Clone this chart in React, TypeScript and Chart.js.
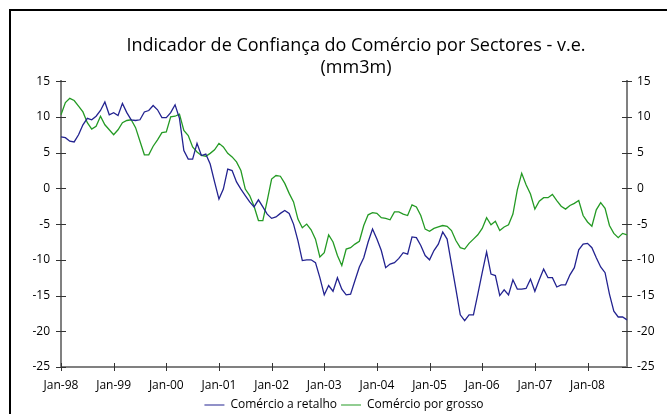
import React, { useEffect, useRef } from "react";
import { Chart, registerables } from "chart.js";

Chart.register(...registerables);

const titleLines = ["Indicador de Confiança do Comércio por Sectores - v.e.", "(mm3m)"];
const seriesNames = ["Comércio a retalho", "Comércio por grosso"];
const xTickLabels = ["Jan-98", "Jan-99", "Jan-00", "Jan-01", "Jan-02", "Jan-03", "Jan-04", "Jan-05", "Jan-06", "Jan-07", "Jan-08"];
const yTickValues = [-25, -20, -15, -10, -5, 0, 5, 10, 15];
const monthNames = ["Jan", "Feb", "Mar", "Apr", "May", "Jun", "Jul", "Aug", "Sep", "Oct", "Nov", "Dec"];

// Comércio a retalho (Jan-98 .. Oct-08, monthly)
const retail = [
  7.2, 7.1, 6.6, 6.5, 7.5, 8.9, 9.8, 9.6, 10.1, 10.9, 12.1, 10.3,
  10.6, 10.2, 11.9, 10.6, 9.6, 9.5, 9.6, 10.7, 10.9, 11.6, 11.0, 9.9,
  9.9, 10.6, 11.7, 9.8, 5.3, 4.1, 4.1, 6.3, 4.6, 4.8, 3.4, 0.9,
  -1.5, -0.1, 2.7, 2.5, 0.9, -0.1, -1.0, -1.9, -2.6, -1.6, -2.6, -3.6,
  -4.2, -4.0, -3.5, -3.1, -3.5, -5.0, -7.3, -10.1, -10.0, -10.0, -10.4, -12.5,
  -14.9, -13.6, -14.4, -12.5, -14.1, -14.9, -14.8, -12.9, -11.0, -9.7, -7.5, -5.7,
  -7.1, -8.7, -11.1, -10.6, -10.4, -9.8, -9.0, -9.2, -6.8, -6.9, -8.0, -9.4,
  -10.0, -8.7, -7.8, -6.1, -7.1, -10.6, -14.1, -17.7, -18.5, -17.7, -17.7, -14.8,
  -11.8, -8.9, -12.0, -12.2, -15.0, -14.2, -14.9, -12.8, -14.1, -14.1, -14.0, -12.7,
  -14.4, -12.8, -11.3, -12.5, -12.5, -13.8, -13.5, -13.5, -12.1, -11.1, -8.6, -7.8,
  -7.7, -8.3, -9.7, -11.0, -11.8, -14.8, -17.2, -18.0, -18.0, -18.4,
];

// Comércio por grosso (Jan-98 .. Oct-08, monthly)
const wholesale = [
  10.3, 12.0, 12.6, 12.3, 11.5, 10.7, 9.2, 8.3, 8.7, 10.1, 8.9, 8.2,
  7.5, 8.2, 9.2, 9.5, 9.6, 8.5, 6.6, 4.7, 4.7, 5.9, 6.8, 7.8,
  7.9, 10.0, 10.1, 10.4, 8.1, 7.4, 5.8, 5.1, 4.6, 4.5, 4.9, 5.4,
  6.3, 5.8, 4.9, 4.4, 3.7, 2.5, -0.1, -1.0, -2.5, -4.5, -4.5, -1.7,
  1.3, 1.8, 1.7, 0.7, -0.7, -1.9, -4.3, -5.5, -5.0, -5.8, -7.1, -9.6,
  -9.0, -6.5, -7.5, -9.4, -10.8, -8.5, -8.3, -7.8, -7.4, -5.2, -3.7, -3.4,
  -3.5, -4.1, -4.2, -4.4, -3.3, -3.3, -3.6, -3.8, -2.3, -2.6, -3.8, -5.7,
  -6.0, -5.6, -5.4, -5.2, -5.3, -5.9, -7.3, -8.3, -8.5, -7.7, -7.1, -6.5,
  -5.6, -4.1, -5.1, -4.6, -5.9, -5.4, -5.1, -3.6, -0.2, 2.1, 0.5, -0.8,
  -2.9, -1.8, -1.3, -1.3, -0.85, -1.7, -2.5, -2.9, -2.4, -2.1, -1.7, -3.8,
  -4.7, -5.3, -3.0, -2.0, -2.8, -5.2, -6.3, -6.9, -6.3, -6.5,
];

const months: string[] = retail.map((_, i) => `${monthNames[i % 12]}-${String((98 + Math.floor(i / 12)) % 100).padStart(2, "0")}`);

const BLUE = "#232390";
const GREEN = "#249a24";

const crossTicks = {
  id: "crossTicks",
  afterDraw(chart: any) {
    const ctx = chart.ctx;
    const { left, right, bottom } = chart.chartArea;
    const ys = chart.scales.y;
    const xs = chart.scales.x;
    ctx.save();
    ctx.strokeStyle = "#333";
    ctx.lineWidth = 1;
    ctx.beginPath();
    ys.ticks.forEach((t: any) => {
      const py = Math.round(ys.getPixelForValue(t.value)) + 0.5;
      [left, right].forEach((ax: number) => {
        ctx.moveTo(ax - 5, py);
        ctx.lineTo(ax + 5, py);
      });
    });
    for (let i = 0; i < xTickLabels.length; i++) {
      const px = Math.round(xs.getPixelForValue(i * 12)) + 0.5;
      ctx.moveTo(px, bottom - 4);
      ctx.lineTo(px, bottom + 4);
    }
    ctx.stroke();
    ctx.restore();
  },
};

export default function App() {
  const ref = useRef<HTMLCanvasElement | null>(null);
  useEffect(() => {
    if (!ref.current) return;
    Chart.defaults.font.family = "'Open Sans', sans-serif";
    Chart.defaults.color = "#000";
    const yCommon = {
      type: "linear" as const,
      min: -25,
      max: 15,
      afterBuildTicks: (s: any) => {
        s.ticks = yTickValues.map((v) => ({ value: v }));
      },
      grid: { display: true, drawOnChartArea: false, drawTicks: true, tickLength: 5, tickColor: "rgba(0,0,0,0)" },
      border: { display: true, color: "#808080", width: 2 },
    };
    const chart = new Chart(ref.current, {
      type: "line",
      data: {
        labels: months,
        datasets: [
          { label: seriesNames[0], data: retail, borderColor: BLUE, backgroundColor: BLUE, borderWidth: 1.3, pointRadius: 0, tension: 0, yAxisID: "y" },
          { label: seriesNames[1], data: wholesale, borderColor: GREEN, backgroundColor: GREEN, borderWidth: 1.3, pointRadius: 0, tension: 0, yAxisID: "y" },
        ],
      },
      options: {
        animation: false,
        responsive: false,
        devicePixelRatio: 1,
        layout: { padding: { left: 0, right: 0, top: 0, bottom: 0 } },
        plugins: {
          title: {
            display: true,
            text: titleLines,
            font: { size: 18, weight: "normal" },
            color: "#000",
            padding: { top: 24, bottom: 3 },
          },
          legend: {
            display: true,
            position: "bottom",
            fullSize: false,
            labels: {
              boxWidth: 20,
              boxHeight: 1,
              padding: 4,
              font: { size: 12 },
              generateLabels: (c: any) =>
                Chart.defaults.plugins.legend.labels.generateLabels(c).map((l: any) => ({ ...l, lineWidth: 0 })),
            },
          },
          tooltip: { enabled: false },
        },
        scales: {
          x: {
            type: "category",
            offset: false,
            afterFit: (s: any) => {
              s.height = 28;
            },
            grid: { display: true, drawOnChartArea: false, drawTicks: true, tickLength: 4, tickColor: "rgba(0,0,0,0)" },
            border: { display: true, color: "#808080", width: 2 },
            ticks: {
              autoSkip: false,
              maxRotation: 0,
              padding: 7,
              font: { size: 12 },
              callback: (_v: any, idx: number) => (idx % 12 === 0 ? xTickLabels[idx / 12] : null),
            },
          },
          y: {
            ...yCommon,
            position: "left",
            afterFit: (s: any) => {
              s.width = 50;
            },
            ticks: { padding: 6, font: { size: 12 } },
          },
          y2: {
            ...yCommon,
            position: "right",
            afterFit: (s: any) => {
              s.width = 74;
            },
            ticks: { padding: 5, font: { size: 12 } },
          },
        },
      },
      plugins: [crossTicks],
    } as any);
    return () => chart.destroy();
  }, []);

  return (
    <div
      style={{
        position: "absolute",
        left: 9,
        top: 9,
        width: 658,
        height: 405,
        borderLeft: "2px solid #000",
        borderTop: "2px solid #000",
        boxSizing: "border-box",
        overflow: "hidden",
        background: "#fff",
      }}
    >
      <canvas ref={ref} width={690} height={410} style={{ display: "block" }} />
    </div>
  );
}
